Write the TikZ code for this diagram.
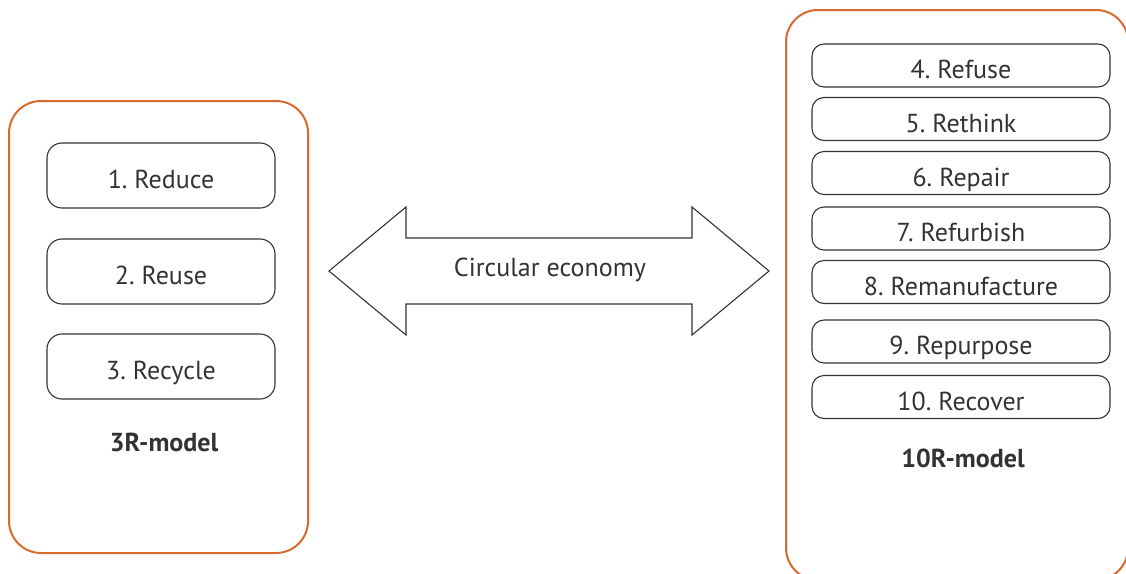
\documentclass[tikz,border=0pt]{standalone}
\usepackage{fontspec}
\setmainfont{PT Sans}
\usetikzlibrary{positioning}

\definecolor{rorange}{HTML}{D8692F}
\definecolor{rtext}{HTML}{333333}

\tikzset{
    model/.style={draw=rorange, line width=2pt, rounded corners=32pt, inner sep=0pt},
    rbox/.style={draw=rtext, line width=1.1pt, inner sep=0pt, text=rtext,
        text height=26pt, text depth=0pt,
        font=\fontsize{26}{30}\selectfont\frenchspacing},
    modellabel/.style={text=rtext, font=\fontsize{26}{30}\selectfont\bfseries}
}

\begin{document}
\begin{tikzpicture}[x=1pt, y=-1pt]
    \useasboundingbox (0,0) rectangle (1126,573);

    % 3R-model
    \node [model, minimum width=299pt, minimum height=452pt] (threeR) at (158.5,327) {};
    \foreach \y/\t [count=\i] in {175.5/1. Reduce, 271.5/2. Reuse, 366.5/3. Recycle}
        \node [rbox, rounded corners=15pt, minimum width=228pt, minimum height=65pt]
            (l\i) at (161,\y) {\t};
    \node [modellabel] (threeRname) at (164,442) {3R-model};

    % 10R-model
    \node [model, minimum width=342pt, minimum height=570pt] (tenR) at (957,295) {};
    \foreach \y/\t [count=\i from 4] in {65.5/4. Refuse, 119/5. Rethink, 173/6. Repair,
            228.5/7. Refurbish, 282/8. Remanufacture, 341.5/9. Repurpose, 397/10. Recover}
        \node [rbox, rounded corners=12pt, minimum width=298pt, minimum height=43pt]
            (r\i) at (961,\y) {\t};
    \node [modellabel] (tenRname) at (963,458) {10R-model};

    % double arrow
    \coordinate (tipL) at (329,271);
    \coordinate (tipR) at (769,271);
    \draw [draw=rtext, line width=1.1pt, line join=miter]
        (tipL) -- (406,207) -- (406,238) -- (692,238) -- (692,207) -- (tipR)
        -- (692,335) -- (692,304) -- (406,304) -- (406,335) -- cycle;
    \node [text=rtext, font=\fontsize{26}{30}\selectfont] (ce) at (550,270) {Circular economy};
\end{tikzpicture}
\end{document}
